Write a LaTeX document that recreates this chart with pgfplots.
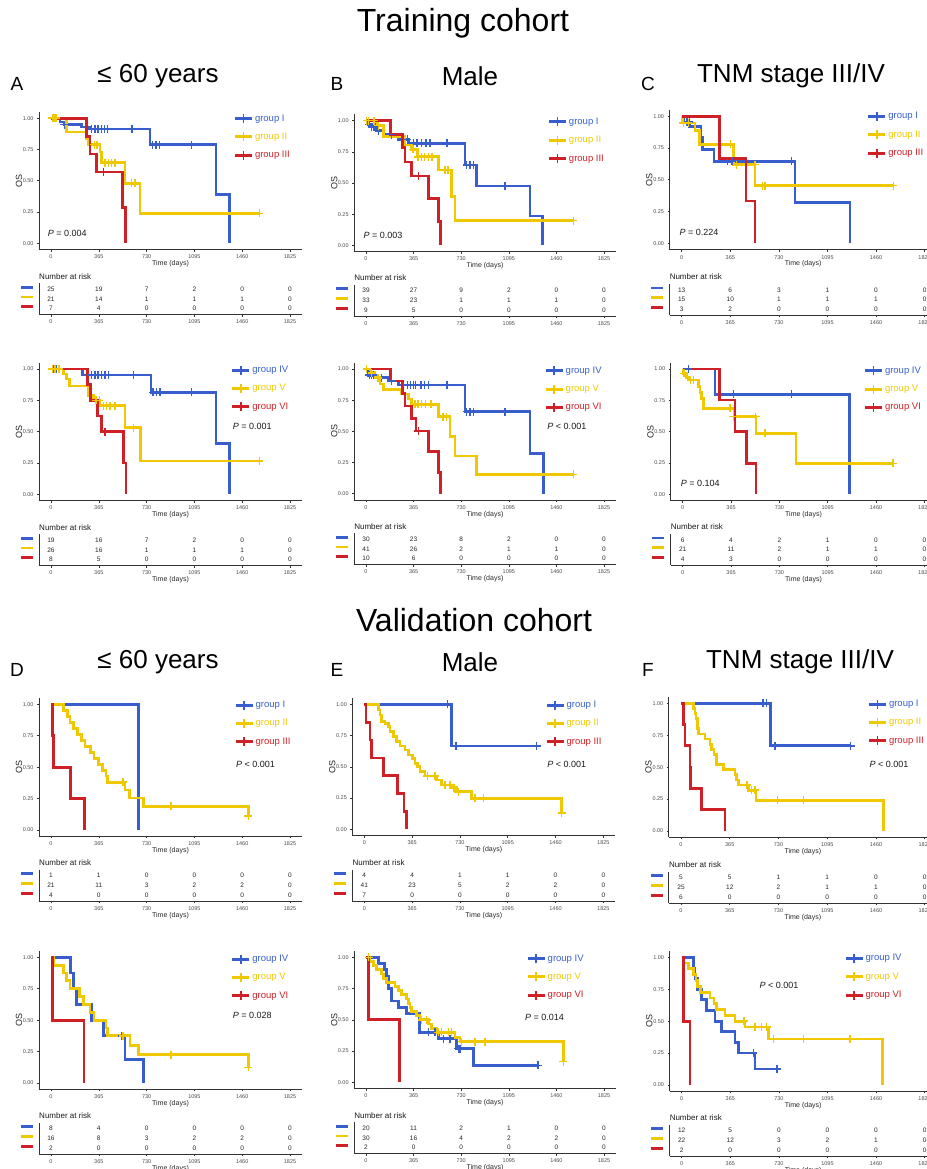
\documentclass[border=0pt]{standalone}
\usepackage{fontspec}
\setmainfont{Liberation Sans}
\usepackage{pgfplots}
\pgfplotsset{compat=1.18}
\definecolor{kmblue}{RGB}{56,94,206}
\definecolor{kmyellow}{RGB}{240,200,0}
\definecolor{kmred}{RGB}{208,32,39}

\newcommand\setpanel[5]{%
  \pgfmathsetmacro\PH{#4-#3}%
  \pgfmathsetmacro\PL{#1-91.25*#2}%
  \pgfmathsetmacro\PB{#4+0.05*\PH}%
  \def\PS{#2}%
  \pgfmathsetmacro\TB{#5+25.22}%
}
\tikzset{pval/.style={anchor=west, font=\fontsize{9}{10}\selectfont, inner sep=0pt, text=black!90}}
\pgfplotsset{
  kmcommon/.style={
    xmin=-91.25, xmax=1916.25,
    axis x line*=bottom, axis y line*=left,
    axis line style={-, draw=black!80, line width=0.7pt},
    xtick={0,365,730,1095,1460,1825},
    tick align=outside, major tick length=2pt,
    every tick/.style={draw=black!80, line width=0.6pt},
    ticklabel style={font=\fontsize{5.5}{6}\selectfont, text=black!70},
    /pgf/number format/assume math mode=true,
    xticklabel style={/pgf/number format/1000 sep={}},
    xlabel style={font=\fontsize{7}{8}\selectfont, text=black!85, at={(axis description cs:0.5,0)}, anchor=north, inner sep=0pt, yshift=-11pt},
    anchor=south west,
  },
  kmaxis/.style={
    kmcommon,
    at={(\PL pt,-\PB pt)}, x=\PS pt, y=\PH pt,
    ymin=-0.05, ymax=1.05,
    ytick={0,0.25,0.5,0.75,1},
    yticklabel style={/pgf/number format/.cd, fixed, fixed zerofill, precision=2},
    xlabel={Time (days)},
    ylabel={OS},
    ylabel style={font=\fontsize{9}{10}\selectfont, text=black!85, at={(axis description cs:-0.076,0.5)}, anchor=center},
    legend cell align=left,
    legend image code/.code={
      \draw[##1, line width=3pt] (0pt,0pt) -- (17pt,0pt);
      \draw[##1, line width=1.6pt] (8.5pt,-4.5pt) -- (8.5pt,4.5pt);
    },
    legend style={draw=none, fill=none, inner sep=0pt, row sep=6.3pt, font=\fontsize{9.5}{11}\selectfont, nodes={inner sep=1.5pt, text height=7pt, text depth=2pt}, anchor=north west, /tikz/every even column/.append style={column sep=3pt}},
  },
  riskaxis/.style={
    kmcommon,
    at={(\PL pt,-\TB pt)}, x=\PS pt, y=9.7pt,
    ymin=0.4, ymax=3.6,
    ytick={1,2,3},
    yticklabels={{\textcolor{kmred}{\rule{12pt}{2.8pt}}},{\textcolor{kmyellow}{\rule{12pt}{2.8pt}}},{\textcolor{kmblue}{\rule{12pt}{2.8pt}}}},
    ytick style={draw=none},
    yticklabel style={inner sep=0pt, xshift=-4pt, yshift=2pt},
    title={Number at risk},
    title style={at={(axis description cs:0,1)}, anchor=south west, inner sep=0pt, yshift=-2pt, font=\fontsize{8}{9}\selectfont, text=black!90},
  },
  riskrow/.style={draw=none, mark=none, nodes near coords, point meta=explicit symbolic,
    every node near coord/.append style={font=\fontsize{6.5}{7}\selectfont, text=black!85, inner sep=0pt, yshift=-2.3pt}},
  kmline/.style={const plot, line width=2.8pt, mark=none},
  kmcens/.style={only marks, mark=+, mark size=4pt, mark options={line width=1.6pt}, forget plot},
}

\begin{document}
\begin{tikzpicture}
\useasboundingbox (0pt,0pt) rectangle (926pt,-1169pt);

% ---------- titles ----------
\node[font=\fontsize{32}{38}\selectfont] at (463pt,-23pt) {Training cohort};
\node[font=\fontsize{32}{38}\selectfont] at (474pt,-620pt) {Validation cohort};
\node[font=\fontsize{26}{30}\selectfont] at (158pt,-76pt) {≤ 60 years};
\node[font=\fontsize{26}{30}\selectfont] at (470pt,-76pt) {Male};
\node[font=\fontsize{26}{30}\selectfont] at (791pt,-76pt) {TNM stage III/IV};
\node[font=\fontsize{26}{30}\selectfont] at (158pt,-662pt) {≤ 60 years};
\node[font=\fontsize{26}{30}\selectfont] at (470pt,-662pt) {Male};
\node[font=\fontsize{26}{30}\selectfont] at (800pt,-662pt) {TNM stage III/IV};
\node[font=\fontsize{19}{22}\selectfont] at (17pt,-84pt) {A};
\node[font=\fontsize{19}{22}\selectfont] at (337pt,-84pt) {B};
\node[font=\fontsize{19}{22}\selectfont] at (648pt,-84pt) {C};
\node[font=\fontsize{19}{22}\selectfont] at (17pt,-670pt) {D};
\node[font=\fontsize{19}{22}\selectfont] at (337pt,-670pt) {E};
\node[font=\fontsize{19}{22}\selectfont] at (648pt,-670pt) {F};

% ================= A (training, <=60) =================
\setpanel{51}{0.13096}{118.3}{243.3}{289.3}
\begin{axis}[kmaxis, legend style={at={(axis cs:1392,1.048)}}]
\addplot[kmline,kmblue] coordinates {(0,1)(69,0.97)(102,0.95)(234,0.93)(293,0.915)(756,0.79)(1260,0.39)(1362,0)};
\addlegendentry{\textcolor{kmblue}{group I}}
\addplot[kmcens,kmblue] coordinates {(18,1)(38,1)(102,0.95)(310,0.915)(336,0.915)(361,0.915)(387,0.915)(410,0.915)(430,0.915)(618,0.915)(776,0.79)(802,0.79)(827,0.79)(1074,0.79)};
\addplot[kmline,kmyellow] coordinates {(0,1)(120,0.89)(267,0.84)(285,0.79)(374,0.73)(387,0.645)(565,0.48)(680,0.24)(1591,0.24)};
\addlegendentry{\textcolor{kmyellow}{group II}}
\addplot[kmcens,kmyellow] coordinates {(10,1)(25,1)(38,1)(331,0.79)(349,0.79)(412,0.645)(438,0.645)(463,0.645)(489,0.645)(616,0.48)(641,0.48)(1591,0.24)};
\addplot[kmline,kmred] coordinates {(0,1)(272,0.857)(298,0.714)(349,0.571)(545,0.286)(568,0)};
\addlegendentry{\textcolor{kmred}{group III}}
\addplot[kmcens,kmred] coordinates {(400,0.571)};
\node[pval] at (axis cs:-25,0.08) {\textit{P} = 0.004};
\end{axis}
\begin{axis}[riskaxis]
\addplot[riskrow] table[meta=n,row sep=\\]{x y n\\0 3 25\\365 3 19\\730 3 7\\1095 3 2\\1460 3 0\\1825 3 0\\0 2 21\\365 2 14\\730 2 1\\1095 2 1\\1460 2 1\\1825 2 0\\0 1 7\\365 1 4\\730 1 0\\1095 1 0\\1460 1 0\\1825 1 0\\};
\end{axis}

% ================= B (training, male) =================
\setpanel{366}{0.13041}{120.7}{245.3}{290.7}
\begin{axis}[kmaxis, legend style={at={(axis cs:1390,1.04)}}]
\addplot[kmline,kmblue] coordinates {(0,1)(18,0.97)(43,0.95)(82,0.92)(133,0.888)(248,0.85)(325,0.818)(759,0.644)(849,0.476)(1258,0.235)(1355,0)};
\addlegendentry{\textcolor{kmblue}{group I}}
\addplot[kmcens,kmblue] coordinates {(26,0.97)(43,0.95)(56,0.95)(69,0.95)(95,0.92)(197,0.888)(317,0.85)(363,0.818)(393,0.818)(427,0.818)(460,0.818)(491,0.818)(621,0.818)(772,0.644)(797,0.644)(823,0.644)(1066,0.476)};
\addplot[kmline,kmyellow] coordinates {(0,1)(82,0.96)(133,0.872)(299,0.805)(350,0.77)(394,0.711)(555,0.604)(657,0.39)(682,0.198)(1590,0.198)};
\addlegendentry{\textcolor{kmyellow}{group II}}
\addplot[kmcens,kmyellow] coordinates {(5,1)(20,1)(60,1)(95,0.96)(360,0.77)(400,0.711)(425,0.711)(450,0.711)(478,0.711)(505,0.711)(607,0.604)(630,0.604)(1590,0.198)};
\addplot[kmline,kmred] coordinates {(0,1)(189,0.89)(281,0.783)(299,0.668)(350,0.556)(478,0.374)(555,0.19)(572,0)};
\addlegendentry{\textcolor{kmred}{group III}}
\addplot[kmcens,kmred] coordinates {(401,0.556)};
\node[pval] at (axis cs:-20,0.083) {\textit{P} = 0.003};
\end{axis}
\begin{axis}[riskaxis]
\addplot[riskrow] table[meta=n,row sep=\\]{x y n\\0 3 39\\365 3 27\\730 3 9\\1095 3 2\\1460 3 0\\1825 3 0\\0 2 33\\365 2 23\\730 2 1\\1095 2 1\\1460 2 1\\1825 2 0\\0 1 9\\365 1 5\\730 1 0\\1095 1 0\\1460 1 0\\1825 1 0\\};
\end{axis}

% ================= C (training, TNM III/IV) =================
\setpanel{681.7}{0.13308}{116.3}{243.3}{290}
\begin{axis}[kmaxis, legend style={at={(axis cs:1390,1.048)}}]
\addplot[kmline,kmblue] coordinates {(0,1)(13,0.955)(60,0.92)(145,0.83)(158,0.74)(243,0.647)(851,0.323)(1264,0)};
\addlegendentry{\textcolor{kmblue}{group I}}
\addplot[kmcens,kmblue] coordinates {(38,0.955)(58,0.955)(343,0.647)(376,0.647)(826,0.647)};
\addplot[kmline,kmyellow] coordinates {(0,1)(5,0.947)(100,0.89)(133,0.78)(388,0.62)(551,0.455)(1590,0.455)};
\addlegendentry{\textcolor{kmyellow}{group II}}
\addplot[kmcens,kmyellow] coordinates {(13,0.947)(50,0.947)(368,0.78)(413,0.62)(551,0.62)(608,0.455)(626,0.455)(1590,0.455)};
\addplot[kmline,kmred] coordinates {(0,1)(283,0.667)(483,0.333)(551,0)};
\addlegendentry{\textcolor{kmred}{group III}}
\node[pval] at (axis cs:-17,0.084) {\textit{P} = 0.224};
\end{axis}
\begin{axis}[riskaxis]
\addplot[riskrow] table[meta=n,row sep=\\]{x y n\\0 3 13\\365 3 6\\730 3 3\\1095 3 1\\1460 3 0\\1825 3 0\\0 2 15\\365 2 10\\730 2 1\\1095 2 1\\1460 2 1\\1825 2 0\\0 1 3\\365 1 2\\730 1 0\\1095 1 0\\1460 1 0\\1825 1 0\\};
\end{axis}

% ================= A2 (training, <=60, IV-VI) =================
\setpanel{51}{0.13096}{369}{494.3}{540.3}
\begin{axis}[kmaxis, legend style={at={(axis cs:1372,1.04)}}]
\addplot[kmline,kmblue] coordinates {(0,1)(242,0.952)(764,0.814)(1260,0.407)(1362,0)};
\addlegendentry{\textcolor{kmblue}{group IV}}
\addplot[kmcens,kmblue] coordinates {(18,1)(38,1)(310,0.952)(336,0.952)(361,0.952)(387,0.952)(412,0.952)(438,0.952)(629,0.952)(781,0.814)(807,0.814)(832,0.814)(1074,0.814)};
\addplot[kmline,kmyellow] coordinates {(0,1)(94,0.96)(120,0.92)(140,0.864)(285,0.79)(323,0.75)(374,0.707)(565,0.532)(685,0.266)(1591,0.266)};
\addlegendentry{\textcolor{kmyellow}{group V}}
\addplot[kmcens,kmyellow] coordinates {(10,1)(30,1)(60,1)(344,0.75)(369,0.75)(400,0.707)(425,0.707)(450,0.707)(489,0.707)(629,0.532)(1591,0.266)};
\addplot[kmline,kmred] coordinates {(0,1)(280,0.875)(303,0.75)(354,0.625)(387,0.5)(552,0.25)(573,0)};
\addlegendentry{\textcolor{kmred}{group VI}}
\addplot[kmcens,kmred] coordinates {(412,0.5)};
\node[pval] at (axis cs:1387,0.54) {\textit{P} = 0.001};
\end{axis}
\begin{axis}[riskaxis, xlabel={Time (days)}]
\addplot[riskrow] table[meta=n,row sep=\\]{x y n\\0 3 19\\365 3 16\\730 3 7\\1095 3 2\\1460 3 0\\1825 3 0\\0 2 26\\365 2 16\\730 2 1\\1095 2 1\\1460 2 1\\1825 2 0\\0 1 8\\365 1 5\\730 1 0\\1095 1 0\\1460 1 0\\1825 1 0\\};
\end{axis}

% ================= B2 (training, male, IV-VI) =================
\setpanel{366}{0.13041}{369}{493.7}{539.3}
\begin{axis}[kmaxis, legend style={at={(axis cs:1365,1.035)}}]
\addplot[kmline,kmblue] coordinates {(0,1)(18,0.95)(69,0.93)(171,0.904)(248,0.872)(759,0.658)(1258,0.324)(1360,0)};
\addlegendentry{\textcolor{kmblue}{group IV}}
\addplot[kmcens,kmblue] coordinates {(26,0.95)(43,0.95)(56,0.95)(120,0.93)(197,0.904)(317,0.872)(342,0.872)(363,0.872)(380,0.872)(420,0.872)(450,0.872)(480,0.872)(621,0.872)(772,0.658)(797,0.658)(823,0.658)(1066,0.658)};
\addplot[kmline,kmyellow] coordinates {(0,1)(31,0.97)(69,0.93)(107,0.88)(133,0.837)(273,0.8)(325,0.76)(350,0.717)(555,0.618)(644,0.46)(682,0.302)(849,0.155)(1590,0.155)};
\addlegendentry{\textcolor{kmyellow}{group V}}
\addplot[kmcens,kmyellow] coordinates {(5,1)(43,0.97)(90,0.93)(375,0.717)(400,0.717)(425,0.717)(455,0.717)(500,0.717)(590,0.618)(617,0.618)(1590,0.155)};
\addplot[kmline,kmred] coordinates {(0,1)(189,0.904)(281,0.805)(299,0.703)(350,0.604)(383,0.503)(481,0.337)(555,0.171)(573,0)};
\addlegendentry{\textcolor{kmred}{group VI}}
\addplot[kmcens,kmred] coordinates {(401,0.503)};
\node[pval] at (axis cs:1390,0.543) {\textit{P} < 0.001};
\end{axis}
\begin{axis}[riskaxis, xlabel={Time (days)}]
\addplot[riskrow] table[meta=n,row sep=\\]{x y n\\0 3 30\\365 3 23\\730 3 8\\1095 3 2\\1460 3 0\\1825 3 0\\0 2 41\\365 2 26\\730 2 2\\1095 2 1\\1460 2 1\\1825 2 0\\0 1 10\\365 1 6\\730 1 0\\1095 1 0\\1460 1 0\\1825 1 0\\};
\end{axis}

% ================= C2 (training, TNM, IV-VI) =================
\setpanel{682.7}{0.1324}{369}{494.3}{540}
\begin{axis}[kmaxis, legend style={at={(axis cs:1364,1.035)}}]
\addplot[kmline,kmblue] coordinates {(0,1)(244,0.798)(1259,0)};
\addlegendentry{\textcolor{kmblue}{group IV}}
\addplot[kmcens,kmblue] coordinates {(43,1)(383,0.798)(823,0.798)};
\addplot[kmline,kmyellow] coordinates {(0,1)(5,0.965)(30,0.93)(55,0.912)(118,0.859)(131,0.81)(143,0.766)(156,0.686)(388,0.62)(554,0.487)(856,0.247)(1586,0.247)};
\addlegendentry{\textcolor{kmyellow}{group V}}
\addplot[kmcens,kmyellow] coordinates {(10,0.965)(60,0.912)(80,0.912)(355,0.686)(383,0.62)(550,0.62)(620,0.487)(1586,0.247)};
\addplot[kmline,kmred] coordinates {(0,1)(277,0.753)(395,0.5)(483,0.247)(554,0)};
\addlegendentry{\textcolor{kmred}{group VI}}
\node[pval] at (axis cs:-15,0.088) {\textit{P} = 0.104};
\end{axis}
\begin{axis}[riskaxis, xlabel={Time (days)}]
\addplot[riskrow] table[meta=n,row sep=\\]{x y n\\0 3 6\\365 3 4\\730 3 2\\1095 3 1\\1460 3 0\\1825 3 0\\0 2 21\\365 2 11\\730 2 2\\1095 2 1\\1460 2 1\\1825 2 0\\0 1 4\\365 1 3\\730 1 0\\1095 1 0\\1460 1 0\\1825 1 0\\};
\end{axis}

% ================= D (validation, <=60) =================
\setpanel{51}{0.13096}{704.3}{830}{875.7}
\begin{axis}[kmaxis, legend style={at={(axis cs:1397,1.043)}}]
\addplot[kmline,kmblue] coordinates {(0,1)(667,0)};
\addlegendentry{\textcolor{kmblue}{group I}}
\addplot[kmline,kmyellow] coordinates {(0,1)(94,0.952)(125,0.905)(145,0.857)(171,0.81)(201,0.762)(234,0.714)(260,0.667)(303,0.619)(328,0.571)(361,0.524)(394,0.476)(420,0.429)(433,0.381)(565,0.318)(598,0.254)(705,0.19)(1507,0.11)};
\addlegendentry{\textcolor{kmyellow}{group II}}
\addplot[kmcens,kmyellow] coordinates {(552,0.381)(914,0.19)(1507,0.11)};
\addplot[kmline,kmred] coordinates {(0,1)(10,0.75)(18,0.5)(150,0.25)(255,0)};
\addlegendentry{\textcolor{kmred}{group III}}
\node[pval] at (axis cs:1412,0.52) {\textit{P} < 0.001};
\end{axis}
\begin{axis}[riskaxis, xlabel={Time (days)}]
\addplot[riskrow] table[meta=n,row sep=\\]{x y n\\0 3 1\\365 3 1\\730 3 0\\1095 3 0\\1460 3 0\\1825 3 0\\0 2 21\\365 2 11\\730 2 3\\1095 2 2\\1460 2 2\\1825 2 0\\0 1 4\\365 1 0\\730 1 0\\1095 1 0\\1460 1 0\\1825 1 0\\};
\end{axis}

% ================= E (validation, male) =================
\setpanel{364.3}{0.13096}{704.3}{829.3}{875.7}
\begin{axis}[kmaxis, legend style={at={(axis cs:1379,1.043)}}]
\addplot[kmline,kmblue] coordinates {(0,1)(667,0.667)(1316,0.667)};
\addlegendentry{\textcolor{kmblue}{group I}}
\addplot[kmcens,kmblue] coordinates {(634,1)(700,0.667)(1316,0.667)};
\addplot[kmline,kmyellow] coordinates {(0,1)(107,0.955)(120,0.915)(132,0.86)(158,0.845)(183,0.82)(196,0.78)(221,0.74)(247,0.70)(272,0.667)(310,0.635)(336,0.595)(369,0.568)(387,0.528)(405,0.50)(425,0.46)(463,0.427)(552,0.395)(590,0.355)(667,0.333)(705,0.30)(819,0.248)(1507,0.13)};
\addlegendentry{\textcolor{kmyellow}{group II}}
\addplot[kmcens,kmyellow] coordinates {(481,0.427)(540,0.427)(616,0.355)(654,0.355)(685,0.333)(718,0.30)(845,0.248)(909,0.248)(1507,0.13)};
\addplot[kmline,kmred] coordinates {(0,1)(13,0.857)(43,0.714)(56,0.571)(145,0.429)(255,0.286)(303,0.143)(323,0)};
\addlegendentry{\textcolor{kmred}{group III}}
\node[pval] at (axis cs:1397,0.523) {\textit{P} < 0.001};
\end{axis}
\begin{axis}[riskaxis, xlabel={Time (days)}]
\addplot[riskrow] table[meta=n,row sep=\\]{x y n\\0 3 4\\365 3 4\\730 3 1\\1095 3 1\\1460 3 0\\1825 3 0\\0 2 41\\365 2 23\\730 2 5\\1095 2 2\\1460 2 2\\1825 2 0\\0 1 7\\365 1 0\\730 1 0\\1095 1 0\\1460 1 0\\1825 1 0\\};
\end{axis}

% ================= F (validation, TNM) =================
\setpanel{681}{0.13356}{703.3}{831}{877.7}
\begin{axis}[kmaxis, legend style={at={(axis cs:1395,1.043)}}]
\addplot[kmline,kmblue] coordinates {(0,1)(671,0.667)(1270,0.667)};
\addlegendentry{\textcolor{kmblue}{group I}}
\addplot[kmcens,kmblue] coordinates {(616,1)(641,1)(704,0.667)(1270,0.667)};
\addplot[kmline,kmyellow] coordinates {(0,1)(92,0.96)(105,0.92)(112,0.88)(122,0.80)(130,0.76)(180,0.72)(217,0.68)(230,0.64)(247,0.60)(267,0.52)(317,0.48)(404,0.44)(417,0.40)(429,0.36)(504,0.32)(562,0.24)(1515,0)};
\addlegendentry{\textcolor{kmyellow}{group II}}
\addplot[kmcens,kmyellow] coordinates {(492,0.36)(529,0.32)(554,0.32)(721,0.24)(916,0.24)};
\addplot[kmline,kmred] coordinates {(0,1)(17,0.833)(30,0.667)(67,0.5)(72,0.333)(155,0.167)(329,0)};
\addlegendentry{\textcolor{kmred}{group III}}
\node[pval] at (axis cs:1410,0.525) {\textit{P} < 0.001};
\end{axis}
\begin{axis}[riskaxis, xlabel={Time (days)}]
\addplot[riskrow] table[meta=n,row sep=\\]{x y n\\0 3 5\\365 3 5\\730 3 1\\1095 3 1\\1460 3 0\\1825 3 0\\0 2 25\\365 2 12\\730 2 2\\1095 2 1\\1460 2 1\\1825 2 0\\0 1 6\\365 1 0\\730 1 0\\1095 1 0\\1460 1 0\\1825 1 0\\};
\end{axis}

% ================= D2 (validation, <=60, IV-VI) =================
\setpanel{51}{0.13096}{957.3}{1083}{1128.7}
\begin{axis}[kmaxis, legend style={at={(axis cs:1372,1.035)}}]
\addplot[kmline,kmblue] coordinates {(0,1)(150,0.875)(171,0.75)(196,0.625)(310,0.5)(400,0.375)(565,0.1875)(705,0)};
\addlegendentry{\textcolor{kmblue}{group IV}}
\addplot[kmcens,kmblue] coordinates {(540,0.375)};
\addplot[kmline,kmyellow] coordinates {(0,1)(18,0.9375)(94,0.875)(120,0.8125)(145,0.75)(216,0.6875)(247,0.625)(298,0.5625)(328,0.5)(420,0.4375)(430,0.375)(603,0.3)(667,0.225)(1507,0.125)};
\addlegendentry{\textcolor{kmyellow}{group V}}
\addplot[kmcens,kmyellow] coordinates {(552,0.375)(914,0.225)(1507,0.125)};
\addplot[kmline,kmred] coordinates {(0,1)(10,0.5)(252,0)};
\addlegendentry{\textcolor{kmred}{group VI}}
\node[pval] at (axis cs:1387,0.54) {\textit{P} = 0.028};
\end{axis}
\begin{axis}[riskaxis, xlabel={Time (days)}]
\addplot[riskrow] table[meta=n,row sep=\\]{x y n\\0 3 8\\365 3 4\\730 3 0\\1095 3 0\\1460 3 0\\1825 3 0\\0 2 16\\365 2 8\\730 2 3\\1095 2 2\\1460 2 2\\1825 2 0\\0 1 2\\365 1 0\\730 1 0\\1095 1 0\\1460 1 0\\1825 1 0\\};
\end{axis}

% ================= E2 (validation, male, IV-VI) =================
\setpanel{366}{0.13041}{957.3}{1082.3}{1128.3}
\begin{axis}[kmaxis, legend style={at={(axis cs:1227,1.04)}}]
\addplot[kmline,kmblue] coordinates {(0,1)(95,0.95)(140,0.90)(158,0.85)(171,0.75)(197,0.65)(248,0.60)(312,0.55)(409,0.40)(555,0.35)(695,0.27)(823,0.135)(1321,0.135)};
\addlegendentry{\textcolor{kmblue}{group IV}}
\addplot[kmcens,kmblue] coordinates {(478,0.40)(529,0.40)(593,0.35)(644,0.35)(708,0.27)(721,0.27)(1321,0.135)};
\addplot[kmline,kmyellow] coordinates {(0,1)(31,0.967)(56,0.933)(82,0.90)(120,0.867)(133,0.833)(158,0.80)(222,0.767)(248,0.733)(273,0.70)(312,0.667)(325,0.633)(337,0.60)(350,0.567)(388,0.533)(414,0.50)(478,0.467)(504,0.433)(542,0.40)(682,0.36)(721,0.325)(1513,0.165)};
\addlegendentry{\textcolor{kmyellow}{group V}}
\addplot[kmcens,kmyellow] coordinates {(20,1)(427,0.5)(465,0.5)(555,0.40)(580,0.40)(631,0.40)(657,0.40)(733,0.325)(836,0.325)(912,0.325)(1513,0.165)};
\addplot[kmline,kmred] coordinates {(0,1)(18,0.5)(256,0)};
\addlegendentry{\textcolor{kmred}{group VI}}
\node[pval] at (axis cs:1219,0.52) {\textit{P} = 0.014};
\end{axis}
\begin{axis}[riskaxis, xlabel={Time (days)}]
\addplot[riskrow] table[meta=n,row sep=\\]{x y n\\0 3 20\\365 3 11\\730 3 2\\1095 3 1\\1460 3 0\\1825 3 0\\0 2 30\\365 2 16\\730 2 4\\1095 2 2\\1460 2 2\\1825 2 0\\0 1 2\\365 1 0\\730 1 0\\1095 1 0\\1460 1 0\\1825 1 0\\};
\end{axis}

% ================= F2 (validation, TNM, IV-VI) =================
\setpanel{681.7}{0.13308}{957.3}{1085}{1130.7}
\begin{axis}[kmaxis, legend style={at={(axis cs:1219,1.04)}}]
\addplot[kmline,kmblue] coordinates {(0,1)(88,0.917)(100,0.833)(118,0.75)(150,0.667)(188,0.583)(250,0.5)(300,0.417)(401,0.333)(426,0.25)(551,0.125)(714,0.125)};
\addlegendentry{\textcolor{kmblue}{group IV}}
\addplot[kmcens,kmblue] coordinates {(538,0.25)(714,0.125)};
\addplot[kmline,kmyellow] coordinates {(0,1)(13,0.955)(50,0.91)(88,0.864)(108,0.818)(118,0.773)(143,0.727)(213,0.682)(243,0.636)(263,0.591)(326,0.545)(401,0.5)(476,0.455)(651,0.36)(1510,0)};
\addlegendentry{\textcolor{kmyellow}{group V}}
\addplot[kmcens,kmyellow] coordinates {(468,0.5)(551,0.455)(601,0.455)(638,0.455)(689,0.36)(914,0.36)(1264,0.36)};
\addplot[kmline,kmred] coordinates {(0,1)(13,0.5)(63,0)};
\addlegendentry{\textcolor{kmred}{group VI}}
\node[pval] at (axis cs:583,0.783) {\textit{P} < 0.001};
\end{axis}
\begin{axis}[riskaxis, xlabel={Time (days)}]
\addplot[riskrow] table[meta=n,row sep=\\]{x y n\\0 3 12\\365 3 5\\730 3 0\\1095 3 0\\1460 3 0\\1825 3 0\\0 2 22\\365 2 12\\730 2 3\\1095 2 2\\1460 2 1\\1825 2 0\\0 1 2\\365 1 0\\730 1 0\\1095 1 0\\1460 1 0\\1825 1 0\\};
\end{axis}

\end{tikzpicture}
\end{document}
